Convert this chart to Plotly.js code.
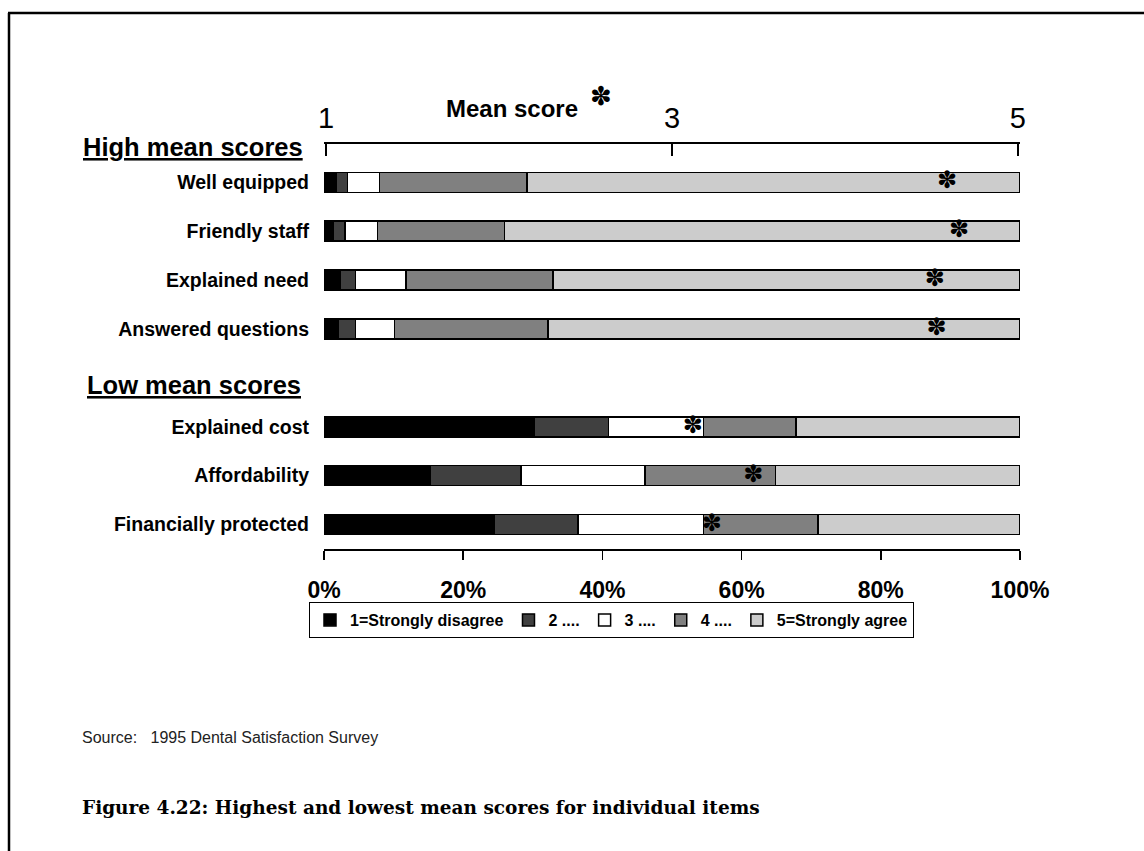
<!DOCTYPE html>
<html>
<head>
<meta charset="utf-8">
<script src="https://cdn.plot.ly/plotly-3.0.1.min.js"></script>
<style>html,body{margin:0;padding:0;background:#fff;}#chart{width:1144px;height:851px;}</style>
</head>
<body>
<div id="chart"></div>
<script>
// ---- data ----
const items = ["Well equipped", "Friendly staff", "Explained need", "Answered questions",
               "Explained cost", "Affordability", "Financially protected"];
const rowPos = [0, 1, 2, 3, 5, 6, 7];
const seriesNames = ["1=Strongly disagree", "2 ....", "3 ....", "4 ....", "5=Strongly agree"];
const s1 = [1.8, 1.4, 2.4, 2.1, 30.2, 15.2, 24.4];
const s2 = [1.6, 1.6, 2.1, 2.4, 10.7, 13.1, 12.1];
const s3 = [4.6, 4.7, 7.3, 5.6, 13.6, 17.8, 18.0];
const s4 = [21.2, 18.2, 21.1, 22.1, 13.3, 18.8, 16.5];
const s5 = [70.8, 74.1, 67.1, 67.8, 32.2, 35.1, 29.0];
const meanScores = [4.59, 4.66, 4.52, 4.53, 3.12, 3.47, 3.23];
const pctTicks = [0, 20, 40, 60, 80, 100];
const pctLabels = ["0%", "20%", "40%", "60%", "80%", "100%"];
const meanTicks = [1, 3, 5];
const meanLabels = ["1", "3", "5"];
const colors = ["#000000", "#404040", "#ffffff", "#808080", "#cccccc"];

// ---- geometry helpers ----
const W = 1144, H = 851;
const L = 324, R = 1020, T = 109, B = 549;
const px = x => (x - L) / (R - L);
const py = y => (B - y) / (B - T);

const series = [s1, s2, s3, s4, s5];
const traces = series.map((vals, i) => ({
  type: "bar",
  orientation: "h",
  name: seriesNames[i],
  x: vals,
  y: rowPos,
  width: 0.41,
  marker: { color: colors[i], line: { color: "#000000", width: 1.5 } },
  hoverinfo: "skip"
}));

traces.push({
  type: "scatter",
  mode: "text",
  x: meanScores,
  y: rowPos,
  xaxis: "x2",
  yaxis: "y",
  text: meanScores.map(() => "✽"),
  textposition: "middle center",
  textfont: { family: "DejaVu Sans", size: 24, color: "#000000" },
  showlegend: false,
  hoverinfo: "skip"
});

const layout = {
  width: W, height: H, autosize: false,
  margin: { l: L, r: W - R, t: T, b: H - B, pad: 0 },
  paper_bgcolor: "#ffffff",
  plot_bgcolor: "rgba(0,0,0,0)",
  barmode: "stack",
  showlegend: true,
  font: { family: "Liberation Sans, Arial, sans-serif", color: "#000000" },
  xaxis: {
    range: [0, 100],
    tickvals: pctTicks, ticktext: pctLabels,
    ticks: "outside", ticklen: 9, tickwidth: 1.5, tickcolor: "#000000",
    showline: true, linecolor: "#000000", linewidth: 1.5,
    showgrid: false, zeroline: false,
    ticklabelstandoff: 11,
    tickfont: { family: "Liberation Sans, Arial, sans-serif", size: 23, color: "#000000", weight: "bold" }
  },
  xaxis2: {
    overlaying: "x", anchor: "free", position: py(143), side: "top",
    range: [0.988, 5.012],
    tickvals: meanTicks, ticktext: meanLabels,
    ticks: "inside", ticklen: 12, tickwidth: 2, tickcolor: "#000000",
    showline: true, linecolor: "#000000", linewidth: 2,
    showgrid: false, zeroline: false,
    ticklabelstandoff: 2,
    tickfont: { family: "Liberation Sans, Arial, sans-serif", size: 29, color: "#000000" }
  },
  yaxis: {
    range: [7.5, -1.5],
    tickvals: rowPos, ticktext: items,
    ticks: "", showline: false, showgrid: false, zeroline: false,
    ticklabelstandoff: 14,
    tickfont: { family: "Liberation Sans, Arial, sans-serif", size: 19.5, color: "#000000", weight: "bold" }
  },
  legend: {
    orientation: "h",
    x: px(309), y: py(602), xanchor: "left", yanchor: "top",
    bordercolor: "#000000", borderwidth: 1, bgcolor: "#ffffff",
    font: { family: "Liberation Sans, Arial, sans-serif", size: 16, color: "#000000", weight: "bold" },
    traceorder: "normal", itemwidth: 30, itemclick: false
  },
  annotations: [
    { xref: "paper", yref: "paper", x: px(512), y: py(108), xanchor: "center", yanchor: "middle",
      text: "<b>Mean score</b>", showarrow: false,
      font: { family: "Liberation Sans, Arial, sans-serif", size: 24, color: "#000000" } },
    { xref: "paper", yref: "paper", x: px(601), y: py(96), xanchor: "center", yanchor: "middle",
      text: "✽", showarrow: false,
      font: { family: "DejaVu Sans", size: 26, color: "#000000" } },
    { xref: "paper", yref: "paper", x: px(305), y: py(147), xanchor: "right", yanchor: "middle",
      text: "<b><u>High mean scores</u></b>", showarrow: false,
      font: { family: "Liberation Sans, Arial, sans-serif", size: 25.5, color: "#000000" } },
    { xref: "paper", yref: "paper", x: px(303), y: py(385), xanchor: "right", yanchor: "middle",
      text: "<b><u>Low mean scores</u></b>", showarrow: false,
      font: { family: "Liberation Sans, Arial, sans-serif", size: 25.5, color: "#000000" } },
    { xref: "paper", yref: "paper", x: px(80), y: py(737), xanchor: "left", yanchor: "middle",
      text: "Source:   1995 Dental Satisfaction Survey", showarrow: false,
      font: { family: "Liberation Sans, Arial, sans-serif", size: 16, color: "#222222" } },
    { xref: "paper", yref: "paper", x: px(80), y: py(807), xanchor: "left", yanchor: "middle",
      text: "<b>Figure 4.22: Highest and lowest mean scores for individual items</b>", showarrow: false,
      font: { family: "DejaVu Serif, serif", size: 18.5, color: "#000000" } }
  ],
  shapes: [
    { type: "line", xref: "paper", yref: "paper", x0: px(8), x1: px(1150), y0: py(13), y1: py(13),
      line: { color: "#000000", width: 2.5 } },
    { type: "line", xref: "paper", yref: "paper", x0: px(9), x1: px(9), y0: py(13), y1: py(870),
      line: { color: "#000000", width: 2.5 } }
  ]
};

Plotly.newPlot("chart", traces, layout, { displayModeBar: false, staticPlot: true });
</script>
</body>
</html>
